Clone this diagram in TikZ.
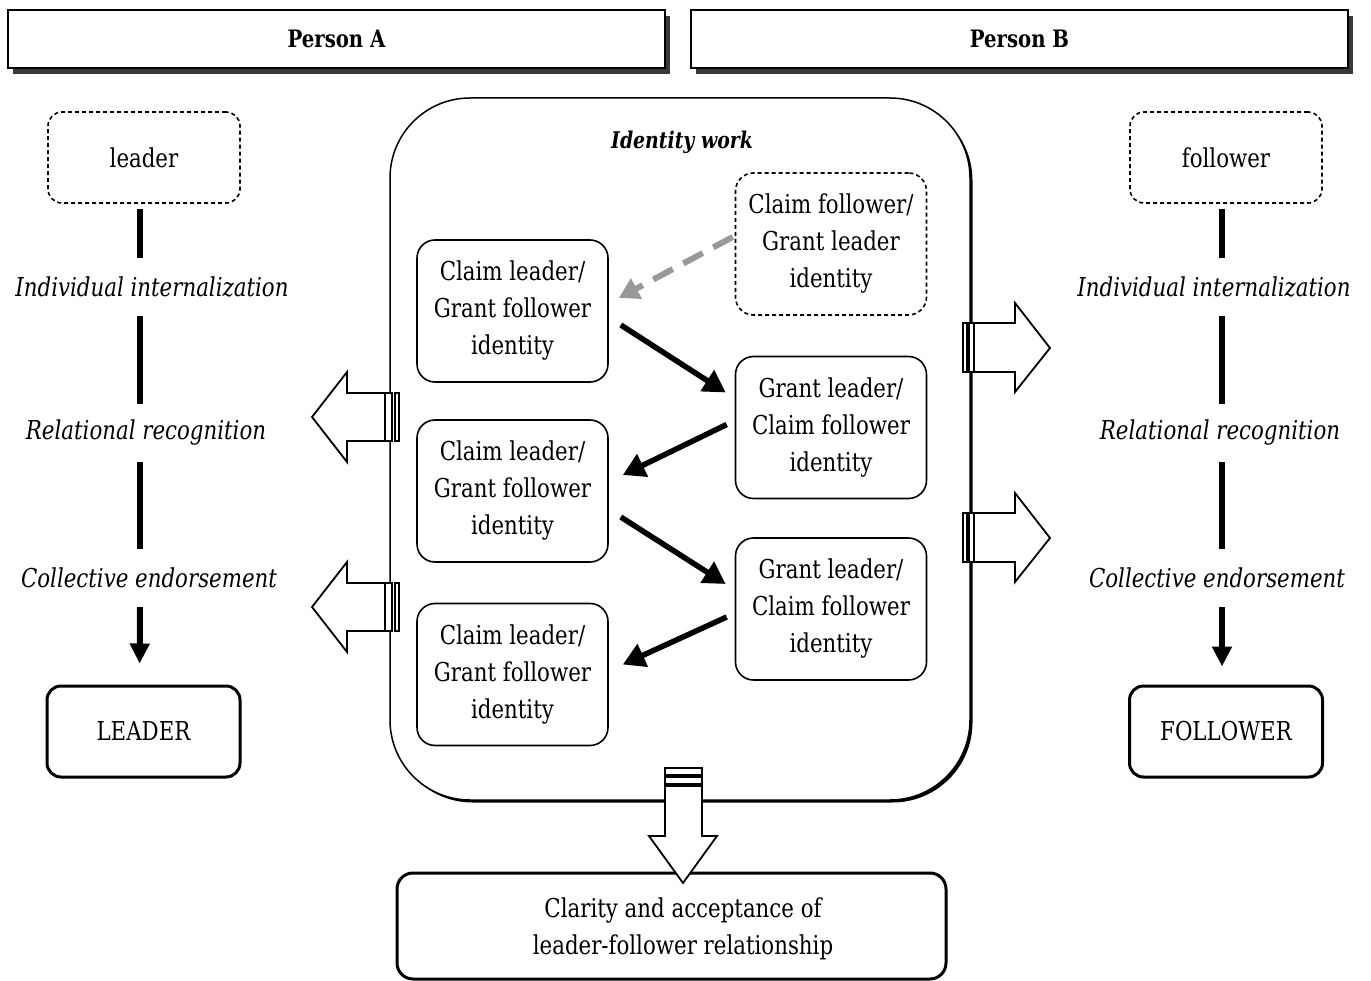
\documentclass[tikz,border=0pt]{standalone}
\usepackage{fontspec}
\setmainfont{DejaVu Serif}[FakeStretch=0.82]
\usetikzlibrary{arrows.meta,calc,shadows}

\begin{document}
\begin{tikzpicture}[x=1pt,y=-1pt,
  base/.style={font=\fontsize{26}{37}\selectfont, align=center, inner sep=0pt},
  hdr/.style={draw, line width=2pt, fill=white, minimum width=657pt, minimum height=58pt,
    font=\fontsize{24}{28}\selectfont\bfseries,
    drop shadow={shadow xshift=5pt, shadow yshift=-6pt, fill=black!78, opacity=1}},
  idbox/.style={base, draw, line width=1.6pt, fill=white, rounded corners=18pt,
    minimum width=191pt, minimum height=142pt},
  dashbox/.style={idbox, dash pattern=on 4pt off 3pt},
  rolebox/.style={base, draw, dash pattern=on 4pt off 3pt, line width=1.6pt,
    rounded corners=14pt, minimum width=192pt, minimum height=91pt},
  finalbox/.style={base, draw, line width=3pt, fill=white, rounded corners=14pt,
    minimum width=193pt, minimum height=91pt},
  lab/.style={base, font=\fontsize{26}{37}\selectfont\itshape, minimum height=58pt},
  conn/.style={line width=6pt},
  connarrow/.style={line width=6pt, -{Triangle[length=20pt,width=19pt]}},
  flow/.style={line width=5.5pt, -{Triangle[length=22pt,width=24pt]}},
  ghost/.style={line width=6pt, draw=black!40, dash pattern=on 22pt off 12pt,
    -{Triangle[length=20pt,width=22pt,fill=black!40]}},
  blk/.style={draw, line width=1.8pt, fill=white, line join=miter}
]
\useasboundingbox (0,0) rectangle (1371,981);

% headers
\node[hdr] (pa) at (336.5,39) {Person A};
\node[hdr] (pb) at (1019.5,39) {Person B};

% central identity-work frame
\node[draw, line width=1.5pt, fill=white, rounded corners=80pt,
  minimum width=580pt, minimum height=702pt,
  drop shadow={shadow xshift=2.5pt, shadow yshift=-2.5pt, fill=black, opacity=1}]
  (iw) at (680,449) {};
\node[font=\fontsize{23}{28}\selectfont\bfseries\itshape] (iwt) at (682,142) {Identity work};

% claim / grant boxes
\node[idbox] (L1) at (512.5,311) {Claim leader/\\Grant follower\\identity};
\node[idbox] (L2) at (512.5,491) {Claim leader/\\Grant follower\\identity};
\node[idbox] (L3) at (512.5,674.5) {Claim leader/\\Grant follower\\identity};
\node[dashbox] (D) at (831,244) {Claim follower/\\Grant leader\\identity};
\node[idbox] (R1) at (831,427.5) {Grant leader/\\Claim follower\\identity};
\node[idbox] (R2) at (831,609) {Grant leader/\\Claim follower\\identity};

% exchanges
\draw[ghost] ($(D.west)+(-2,-7)$) -- ($(L1.east)+(10,-13)$);
\draw[flow] ($(L1.east)+(12,14)$) -- ($(R1.west)+(-9,-35)$);
\draw[flow] ($(R1.west)+(-8,-3)$) -- ($(L2.east)+(14,-16)$);
\draw[flow] ($(L2.east)+(12,26)$) -- ($(R2.west)+(-9,-25)$);
\draw[flow] ($(R2.west)+(-8,8)$) -- ($(L3.east)+(14,-10)$);

% person A column
\node[rolebox] (lead) at (144,157.5) {leader};
\node[lab] (a1) at (152,287) {Individual internalization};
\node[lab] (a2) at (146,433) {Relational recognition};
\node[lab] (a3) at (149,578) {Collective endorsement};
\node[finalbox] (LEAD) at (143.5,731.5) {LEADER};
\draw[conn, shorten <=5pt] ([xshift=-4pt]lead.south) -- ([xshift=-4pt]lead.south |- a1.north);
\draw[conn] ([xshift=-4pt]lead.south |- a1.south) -- ([xshift=-4pt]lead.south |- a2.north);
\draw[conn] ([xshift=-4pt]lead.south |- a2.south) -- ([xshift=-4pt]lead.south |- a3.north);
\draw[connarrow, shorten >=21pt] ([xshift=-4pt]lead.south |- a3.south) -- ([xshift=-4pt]LEAD.north);

% person B column
\node[rolebox] (foll) at (1226,157.5) {follower};
\node[lab] (b1) at (1214,287) {Individual internalization};
\node[lab] (b2) at (1220,433) {Relational recognition};
\node[lab] (b3) at (1217,578) {Collective endorsement};
\node[finalbox] (FOLL) at (1226,731.5) {FOLLOWER};
\draw[conn, shorten <=5pt] ([xshift=-4pt]foll.south) -- ([xshift=-4pt]foll.south |- b1.north);
\draw[conn] ([xshift=-4pt]foll.south |- b1.south) -- ([xshift=-4pt]foll.south |- b2.north);
\draw[conn] ([xshift=-4pt]foll.south |- b2.south) -- ([xshift=-4pt]foll.south |- b3.north);
\draw[connarrow, shorten >=18pt] ([xshift=-4pt]foll.south |- b3.south) -- ([xshift=-4pt]FOLL.north);

% outcome
\node[draw, line width=3pt, fill=white, rounded corners=16pt,
  minimum width=549pt, minimum height=106pt] (res) at (671.5,926) {};
\node[base] (rest) at (683,929)
  {Clarity and acceptance of\\leader-follower relationship};

% block arrows leaving the frame towards person A
\foreach \dy in {0,190} {
  \begin{scope}[yshift=-\dy pt]
    \draw[blk] (385,393) -- (347,393) -- (347,372) -- (312,417) -- (347,462)
      -- (347,441) -- (385,441) -- cycle;
    \draw[blk, line width=1.4pt] (385,393) rectangle (392,441);
    \draw[blk, line width=1.4pt] (395,393) rectangle (399,441);
  \end{scope}
}
% block arrows leaving the frame towards person B
\foreach \dy in {0,190} {
  \begin{scope}[yshift=-\dy pt]
    \draw[blk, line width=1.4pt] (963,323) rectangle (967,372);
    \draw[blk, line width=1.4pt] (969,323) rectangle (974,372);
    \draw[blk] (974,323) -- (1015,323) -- (1015,303) -- (1050,348) -- (1015,392)
      -- (1015,372) -- (974,372) -- cycle;
  \end{scope}
}
% block arrow down to the outcome
\draw[blk, line width=1.4pt] (665,768) rectangle (702,775);
\draw[blk, line width=1.4pt] (665,777) rectangle (702,784);
\draw[blk] (665,786) -- (665,836) -- (649,836) -- (683,883) -- (717,836)
  -- (702,836) -- (702,786) -- cycle;
\end{tikzpicture}
\end{document}
